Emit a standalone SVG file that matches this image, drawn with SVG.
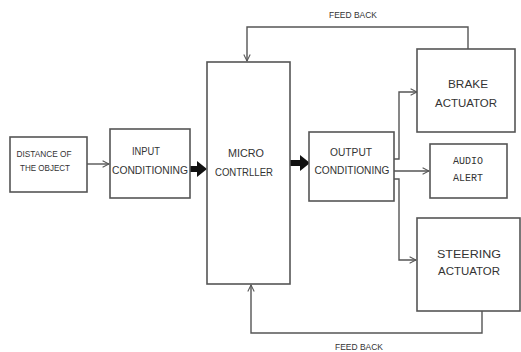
<svg xmlns="http://www.w3.org/2000/svg" width="521" height="352" viewBox="0 0 521 352">
<style>
.box{fill:#fff;stroke:#555;stroke-width:1.6}
.ln{fill:none;stroke:#555;stroke-width:1.4}
.t{font-family:"Liberation Sans",Arial,sans-serif;fill:#333;text-anchor:middle}
.m{font-family:"Liberation Mono","Courier New",monospace;fill:#333;text-anchor:middle}
</style>
<defs>
<marker id="open" viewBox="0 0 10 10" refX="9" refY="5" markerWidth="8" markerHeight="8" markerUnits="userSpaceOnUse" orient="auto">
<path d="M1,1 L9,5 L1,9" fill="none" stroke="#555" stroke-width="1.3"/>
</marker>
</defs>
<rect width="521" height="352" fill="#fff"/>
<g id="connectors">
<path class="ln" d="M87,164 H109" marker-end="url(#open)"/>
<path d="M188,166 H197 V161 L207,169 L197,177 V172 H188 Z" fill="#111"/>
<path d="M290,160 H300 V155 L310,163 L300,171 V166 H290 Z" fill="#111"/>
<path class="ln" d="M394,159 H399 V92 H417" marker-end="url(#open)"/>
<path class="ln" d="M394,171 H429" marker-end="url(#open)"/>
<path class="ln" d="M394,179 H399 V260 H416" marker-end="url(#open)"/>
<path class="ln" d="M468,49 V27 H247 V61" marker-end="url(#open)"/>
<path class="ln" d="M482,311 V333 H251 V285" marker-end="url(#open)"/>
<text class="t" x="353" y="18" font-size="9" textLength="48" lengthAdjust="spacingAndGlyphs">FEED BACK</text>
<text class="t" x="359" y="350" font-size="9" textLength="48" lengthAdjust="spacingAndGlyphs">FEED BACK</text>
</g>
<g id="distance">
<rect class="box" x="10" y="137" width="77" height="55"/>
<text class="t" x="44" y="157" font-size="9" textLength="55" lengthAdjust="spacingAndGlyphs">DISTANCE OF</text>
<text class="t" x="45" y="171" font-size="9" textLength="50" lengthAdjust="spacingAndGlyphs">THE OBJECT</text>
</g>
<g id="input">
<rect class="box" x="110" y="129" width="80" height="69"/>
<text class="t" x="146" y="155" font-size="10.5" textLength="28" lengthAdjust="spacingAndGlyphs">INPUT</text>
<text class="t" x="150" y="174" font-size="10.5" textLength="76" lengthAdjust="spacingAndGlyphs">CONDITIONING</text>
</g>
<g id="micro">
<rect class="box" x="207" y="62" width="83" height="222"/>
<text class="t" x="246" y="157" font-size="10.5" textLength="36" lengthAdjust="spacingAndGlyphs">MICRO</text>
<text class="t" x="244" y="176" font-size="10.5" textLength="58" lengthAdjust="spacingAndGlyphs">CONTRLLER</text>
</g>
<g id="output">
<rect class="box" x="309" y="132" width="85" height="69"/>
<text class="t" x="351" y="156" font-size="10.5" textLength="42" lengthAdjust="spacingAndGlyphs">OUTPUT</text>
<text class="t" x="352" y="174" font-size="10.5" textLength="75" lengthAdjust="spacingAndGlyphs">CONDITIONING</text>
</g>
<g id="brake">
<rect class="box" x="417" y="49" width="98" height="83"/>
<text class="t" x="468" y="88" font-size="11" textLength="40" lengthAdjust="spacingAndGlyphs">BRAKE</text>
<text class="t" x="466" y="107" font-size="11" textLength="62" lengthAdjust="spacingAndGlyphs">ACTUATOR</text>
</g>
<g id="audio">
<rect class="box" x="430" y="144" width="77" height="54"/>
<text class="m" x="468" y="164" font-size="10" textLength="30" lengthAdjust="spacingAndGlyphs">AUDIO</text>
<text class="m" x="468" y="181" font-size="10" textLength="30" lengthAdjust="spacingAndGlyphs">ALERT</text>
</g>
<g id="steering">
<rect class="box" x="417" y="218" width="103" height="93"/>
<text class="t" x="469" y="258" font-size="11" textLength="64" lengthAdjust="spacingAndGlyphs">STEERING</text>
<text class="t" x="469" y="275" font-size="11" textLength="62" lengthAdjust="spacingAndGlyphs">ACTUATOR</text>
</g>
</svg>
